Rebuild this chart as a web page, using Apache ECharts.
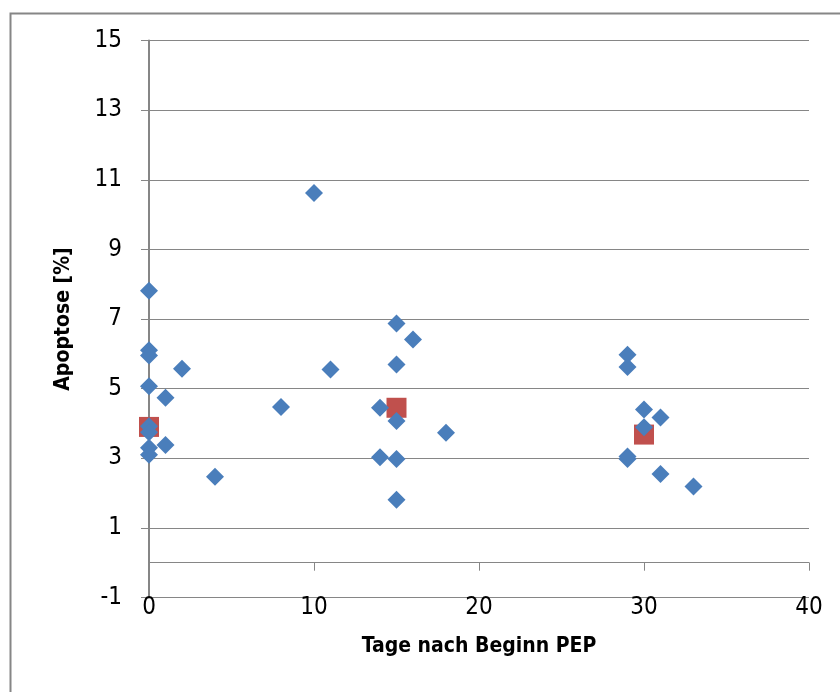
<!DOCTYPE html>
<html>
<head>
<meta charset="utf-8">
<script src="https://cdn.jsdelivr.net/npm/echarts@6/dist/echarts.min.js"></script>
<style>html,body{margin:0;padding:0;background:#fff;}#chart{width:840px;height:692px;}</style>
</head>
<body>
<div id="chart"></div>
<script>
// Blue series (individual measurements)
const blueDays = [0,0,0,0,0,0,0,0, 1,1, 2, 4, 8, 10, 11, 14,14, 15,15,15,15,15, 16, 18, 29,29,29,29, 30,30, 31,31, 33];
const blueApoptose = [7.81,6.10,5.95,5.07,3.92,3.75,3.30,3.10, 4.74,3.38, 5.57, 2.47, 4.47, 10.62, 5.55, 4.45,3.03, 6.87,5.69,4.07,2.98,1.81, 6.41, 3.73, 5.97,5.62,3.05,2.98, 4.40,3.89, 4.17,2.55, 2.19];
// Red series (means)
const redDays = [0, 15, 30];
const redApoptose = [3.90, 4.45, 3.68];
// Axis ticks
const xTicks = [0, 10, 20, 30, 40];
const yTicks = [-1, 1, 3, 5, 7, 9, 11, 13, 15];

const blueData = blueDays.map((d, i) => [d, blueApoptose[i]]);
const redData = redDays.map((d, i) => [d, redApoptose[i]]);

const FONT = "'Liberation Sans Narrow', 'DejaVu Sans Condensed', 'Open Sans', sans-serif";
const GREY = '#868686';

const chart = echarts.init(document.getElementById('chart'), null, {renderer: 'canvas'});
chart.setOption({
  animation: false,
  backgroundColor: '#fff',
  graphic: [{
    type: 'rect', left: 8, top: 11,
    shape: {width: 900, height: 900},
    style: {fill: 'none', stroke: GREY, lineWidth: 2}, z: -10
  }],
  grid: {left: 149, right: 31, top: 40.5, bottom: 94.5, containLabel: false},
  xAxis: [{
    type: 'value', min: xTicks[0], max: xTicks[xTicks.length - 1], interval: 10,
    position: 'bottom',
    axisLine: {show: false, onZero: false},
    axisTick: {show: false},
    splitLine: {show: false},
    axisLabel: {color: '#000', fontFamily: FONT, fontSize: 24, margin: -2},
    name: 'Tage nach Beginn PEP', nameLocation: 'middle', nameGap: 39,
    nameTextStyle: {color: '#000', fontFamily: FONT, fontSize: 21, fontWeight: 'bold'}
  }, {
    type: 'value', min: xTicks[0], max: xTicks[xTicks.length - 1], interval: 10,
    position: 'bottom',
    axisLine: {show: true, onZero: true, lineStyle: {color: GREY, width: 1}},
    axisTick: {show: true, inside: false, length: 8, lineStyle: {color: GREY, width: 1}},
    axisLabel: {show: false},
    splitLine: {show: false}
  }],
  yAxis: {
    type: 'value', min: yTicks[0], max: yTicks[yTicks.length - 1], interval: 2,
    axisLine: {show: true, onZero: false, lineStyle: {color: GREY, width: 2}},
    axisTick: {show: true, length: 8, lineStyle: {color: GREY, width: 1}},
    splitLine: {show: true, lineStyle: {color: GREY, width: 1}},
    axisLabel: {color: '#000', fontFamily: FONT, fontSize: 24, margin: 27},
    name: 'Apoptose [%]', nameLocation: 'middle', nameGap: 75, nameRotate: 90,
    nameTextStyle: {color: '#000', fontFamily: FONT, fontSize: 21, fontWeight: 'bold'}
  },
  series: [{
    type: 'scatter', xAxisIndex: 0, data: redData,
    symbol: 'rect', symbolSize: 20,
    itemStyle: {color: '#C0504D', opacity: 1}
  }, {
    type: 'scatter', xAxisIndex: 0, data: blueData,
    symbol: 'diamond', symbolSize: 18,
    itemStyle: {color: '#4A7EBB', opacity: 1}
  }]
});
</script>
</body>
</html>
